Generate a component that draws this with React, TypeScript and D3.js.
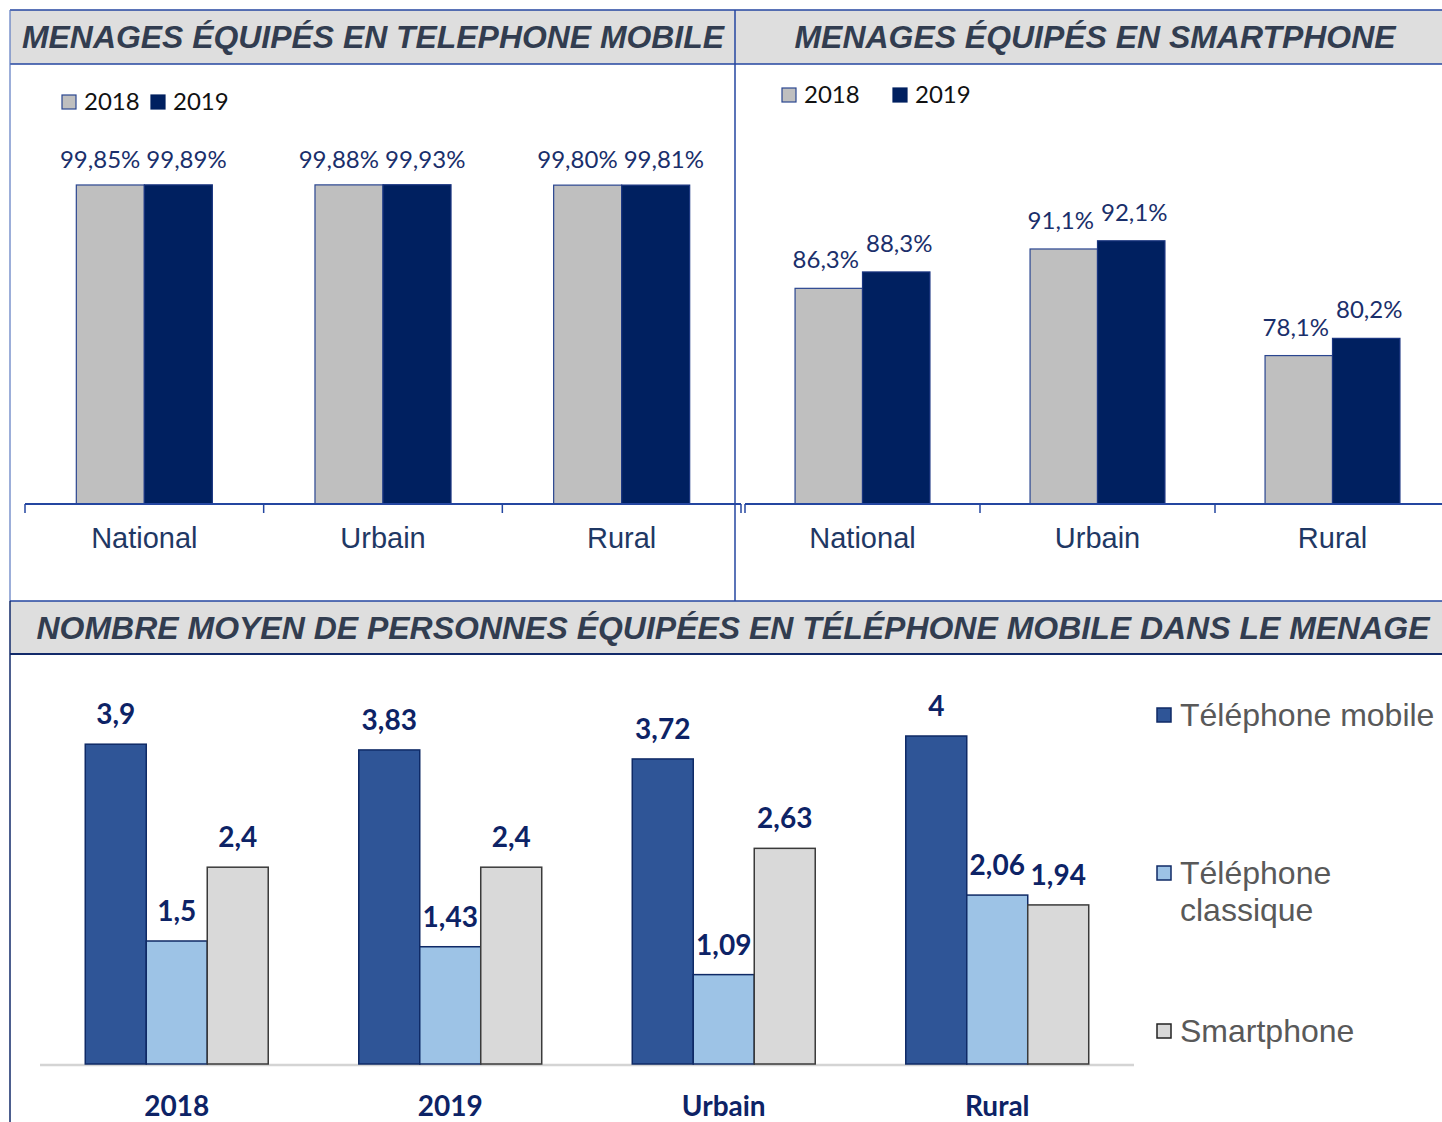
import React from "react";
import * as d3 from "d3";

const topCategories = ["National", "Urbain", "Rural"];
const years = ["2018", "2019"];
const mobile2018 = [0.9985, 0.9988, 0.998];
const mobile2019 = [0.9989, 0.9993, 0.9981];
const mobileLabels2018 = ["99,85%", "99,88%", "99,80%"];
const mobileLabels2019 = ["99,89%", "99,93%", "99,81%"];
const smart2018 = [0.863, 0.911, 0.781];
const smart2019 = [0.883, 0.921, 0.802];
const smartLabels2018 = ["86,3%", "91,1%", "78,1%"];
const smartLabels2019 = ["88,3%", "92,1%", "80,2%"];

const bottomCategories = ["2018", "2019", "Urbain", "Rural"];
const bottomSeries = ["Téléphone mobile", "Téléphone classique", "Smartphone"];
const telMobile = [3.9, 3.83, 3.72, 4];
const telClassique = [1.5, 1.43, 1.09, 2.06];
const telSmart = [2.4, 2.4, 2.63, 1.94];
const telMobileLabels = ["3,9", "3,83", "3,72", "4"];
const telClassiqueLabels = ["1,5", "1,43", "1,09", "2,06"];
const telSmartLabels = ["2,4", "2,4", "2,63", "1,94"];

const BORDER = "#2446a0";
const BAND = "#dedede";
const TITLE = "#323d50";
const GRAY = "#bfbfbf";
const NAVY = "#002060";
const LABEL = "#1a2f6b";
const CAT = "#1f3864";
const C_MOBILE = "#2f5597";
const C_CLASS = "#9dc3e6";
const C_SMART = "#d9d9d9";

const NUM_FONT = "Lato, 'Open Sans', sans-serif";
const SANS = "'Liberation Sans', Arial, sans-serif";

function TopChart(props: {
  x0: number;
  x1: number;
  domain: [number, number];
  yTop: number;
  v18: number[];
  v19: number[];
  l18: string[];
  l19: string[];
  padInner: number;
  splitLabels: boolean;
  labelGap: number;
}) {
  const base = 504;
  const x = d3
    .scaleBand<string>()
    .domain(topCategories)
    .range([props.x0, props.x1])
    .paddingInner(props.padInner)
    .paddingOuter(props.padInner / 2);
  const y = d3.scaleLinear().domain(props.domain).range([base, props.yTop]);
  const bw = x.bandwidth() / 2;
  const step = x.step();
  return (
    <g>
      {topCategories.map((c, i) => {
        const bx = x(c)!;
        const y18 = y(props.v18[i]);
        const y19 = y(props.v19[i]);
        return (
          <g key={c}>
            <rect x={bx} y={y18} width={bw} height={base - y18} fill={GRAY} stroke="#2a4690" strokeWidth={1.2} />
            <rect x={bx + bw} y={y19} width={bw} height={base - y19} fill={NAVY} stroke="#1a3580" strokeWidth={1.2} />
            {props.splitLabels ? (
              <>
                <text x={bx + bw - 4} y={y18 - props.labelGap} textAnchor="end" fontFamily={NUM_FONT} fontSize={24} fill={LABEL}>
                  {props.l18[i]}
                </text>
                <text x={bx + bw + 2} y={y19 - props.labelGap} textAnchor="start" fontFamily={NUM_FONT} fontSize={24} fill={LABEL}>
                  {props.l19[i]}
                </text>
              </>
            ) : (
              <>
                <text x={bx + bw / 2 - 3} y={y18 - props.labelGap} textAnchor="middle" fontFamily={NUM_FONT} fontSize={24} fill={LABEL}>
                  {props.l18[i]}
                </text>
                <text x={bx + bw * 1.5 + 3} y={y19 - props.labelGap} textAnchor="middle" fontFamily={NUM_FONT} fontSize={24} fill={LABEL}>
                  {props.l19[i]}
                </text>
              </>
            )}
            <text x={bx + bw} y={548} textAnchor="middle" fontFamily={SANS} fontSize={29} fill={CAT}>
              {c}
            </text>
          </g>
        );
      })}
      <line x1={props.x0} x2={props.x1} y1={base} y2={base} stroke={BORDER} strokeWidth={1.8} />
      {d3.range(topCategories.length + 1).map((k) => {
        const tx = props.x0 + k * step;
        return <line key={k} x1={tx} x2={tx} y1={base} y2={base + 9} stroke={BORDER} strokeWidth={1.5} />;
      })}
    </g>
  );
}

function TopLegend(props: { x: number; y: number; gap: number }) {
  const cols = [GRAY, NAVY];
  return (
    <g>
      {years.map((yr, i) => (
        <g key={yr} transform={`translate(${props.x + i * props.gap},${props.y})`}>
          <rect x={0} y={-7} width={14} height={14} fill={cols[i]} stroke={i === 0 ? "#2a4690" : NAVY} strokeWidth={1.2} />
          <text x={22} y={8} fontFamily={NUM_FONT} fontSize={24} fill="#111">
            {yr}
          </text>
        </g>
      ))}
    </g>
  );
}

function BottomChart() {
  const base = 1064;
  const x = d3.scaleBand<string>().domain(bottomCategories).range([40, 1134]).paddingInner(0.331).paddingOuter(0.1655);
  const y = d3.scaleLinear().domain([0, 4]).range([base, 736]);
  const bw = x.bandwidth() / 3;
  const series = [
    { vals: telMobile, labels: telMobileLabels, fill: C_MOBILE, stroke: "#0f2a66" },
    { vals: telClassique, labels: telClassiqueLabels, fill: C_CLASS, stroke: "#0f2a66" },
    { vals: telSmart, labels: telSmartLabels, fill: C_SMART, stroke: "#3a3a3a" },
  ];
  return (
    <g>
      <line x1={40} x2={1134} y1={base + 1} y2={base + 1} stroke="#d4d4d4" strokeWidth={2.5} />
      {bottomCategories.map((c, i) => {
        const gx = x(c)!;
        return (
          <g key={c}>
            {series.map((s, j) => {
              const ty = y(s.vals[i]);
              return (
                <g key={j}>
                  <rect x={gx + j * bw} y={ty} width={bw} height={base - ty} fill={s.fill} stroke={s.stroke} strokeWidth={1.5} />
                  <text x={gx + j * bw + bw / 2} y={ty - 20} textAnchor="middle" fontFamily={NUM_FONT} fontWeight={700} fontSize={28} fill="#0d2366">
                    {s.labels[i]}
                  </text>
                </g>
              );
            })}
            <text x={gx + x.bandwidth() / 2} y={1116} textAnchor="middle" fontFamily={NUM_FONT} fontWeight={700} fontSize={28} fill="#0d2366">
              {c}
            </text>
          </g>
        );
      })}
      {[
        { y: 715, lines: [bottomSeries[0]], fill: C_MOBILE, stroke: "#0f2a66" },
        { y: 873, lines: ["Téléphone", "classique"], fill: C_CLASS, stroke: "#0f2a66" },
        { y: 1031, lines: [bottomSeries[2]], fill: C_SMART, stroke: "#222" },
      ].map((l, i) => (
        <g key={i}>
          <rect x={1157} y={l.y - 7} width={14} height={14} fill={l.fill} stroke={l.stroke} strokeWidth={1.5} />
          {l.lines.map((t, k) => (
            <text key={k} x={1180} y={l.y + 11 + k * 37} fontFamily={SANS} fontSize={32} fill="#595959">
              {t}
            </text>
          ))}
        </g>
      ))}
    </g>
  );
}

export default function App() {
  return (
    <svg width={1442} height={1122} style={{ position: "absolute", left: 0, top: 0, background: "#fff" }}>
      <rect width={1442} height={1122} fill="#fff" />
      <rect x={10} y={10} width={1440} height={54} fill={BAND} />
      <line x1={10} x2={1442} y1={10} y2={10} stroke={BORDER} strokeWidth={1.5} />
      <line x1={10} x2={1442} y1={64} y2={64} stroke={BORDER} strokeWidth={1.5} />
      <line x1={10} x2={10} y1={10} y2={601} stroke="#5a78c0" strokeWidth={1.2} />
      <line x1={735} x2={735} y1={10} y2={601} stroke={BORDER} strokeWidth={1.5} />
      <text x={373} y={48} textAnchor="middle" fontFamily={SANS} fontWeight={700} fontStyle="italic" fontSize={31} fill={TITLE} textLength={702} lengthAdjust="spacingAndGlyphs">
        MENAGES ÉQUIPÉS EN TELEPHONE MOBILE
      </text>
      <text x={1095} y={48} textAnchor="middle" fontFamily={SANS} fontWeight={700} fontStyle="italic" fontSize={31} fill={TITLE} textLength={601} lengthAdjust="spacingAndGlyphs">
        MENAGES ÉQUIPÉS EN SMARTPHONE
      </text>

      <TopLegend x={62} y={102} gap={89} />
      <TopLegend x={782} y={95} gap={111} />

      <TopChart x0={25} x1={741} domain={[0, 1]} yTop={184.5} v18={mobile2018} v19={mobile2019} l18={mobileLabels2018} l19={mobileLabels2019} padInner={0.43} splitLabels={true} labelGap={17} />
      <TopChart x0={745} x1={1450} domain={[0.6, 1]} yTop={176} v18={smart2018} v19={smart2019} l18={smartLabels2018} l19={smartLabels2019} padInner={0.426} splitLabels={false} labelGap={20} />

      <rect x={10} y={601} width={1440} height={53} fill={BAND} />
      <line x1={10} x2={1442} y1={601} y2={601} stroke={BORDER} strokeWidth={1.5} />
      <line x1={10} x2={1442} y1={654} y2={654} stroke="#122a6a" strokeWidth={2} />
      <line x1={10} x2={10} y1={601} y2={1122} stroke="#122a6a" strokeWidth={1.5} />
      <text x={733} y={639} textAnchor="middle" fontFamily={SANS} fontWeight={700} fontStyle="italic" fontSize={31} fill={TITLE} textLength={1393} lengthAdjust="spacingAndGlyphs">
        NOMBRE MOYEN DE PERSONNES ÉQUIPÉES EN TÉLÉPHONE MOBILE DANS LE MENAGE
      </text>

      <BottomChart />
    </svg>
  );
}
